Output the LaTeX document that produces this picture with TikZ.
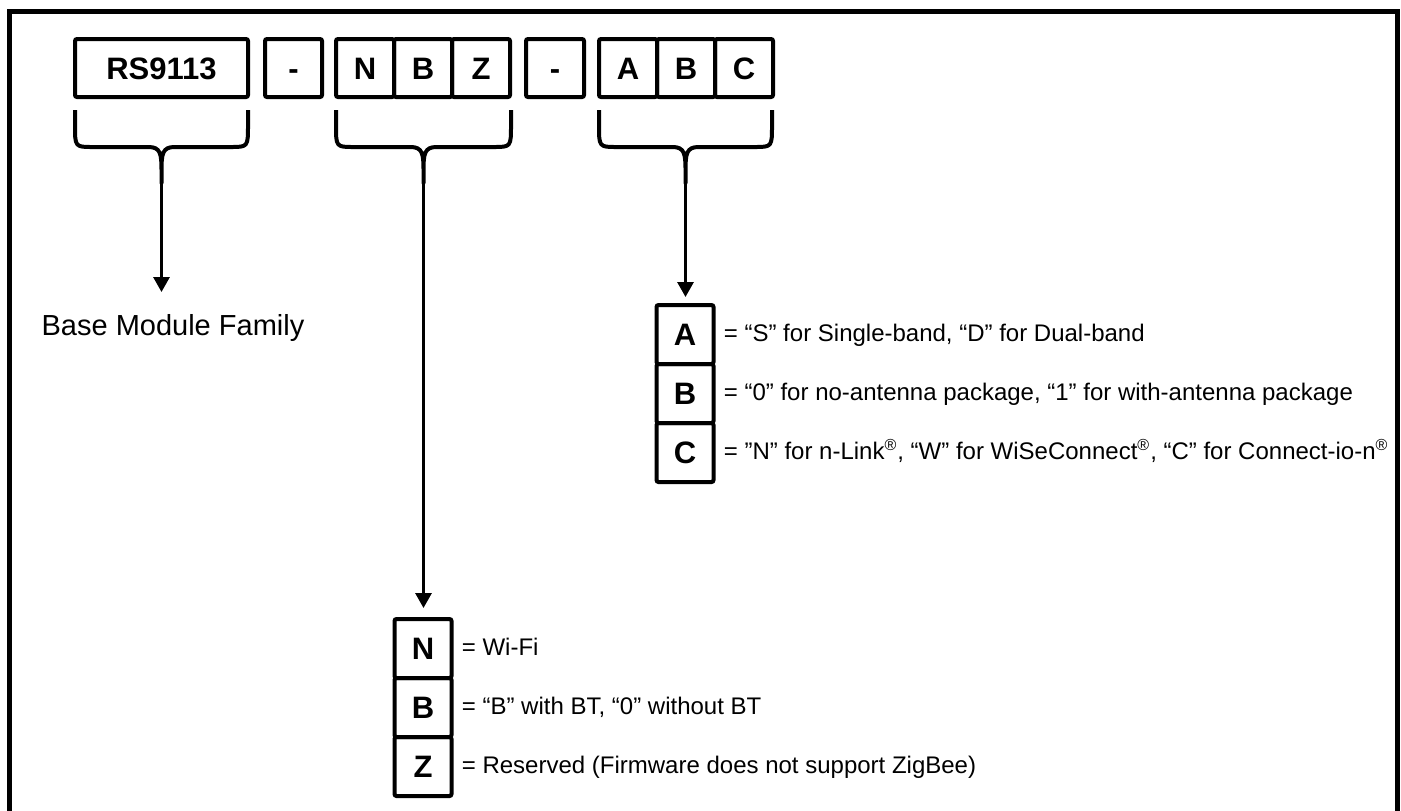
\documentclass[tikz,border=0pt]{standalone}
\usepackage{fontspec}
\setmainfont{Liberation Sans}
\usetikzlibrary{arrows.meta}
\usetikzlibrary{positioning}

\tikzset{
    cell/.style={draw, line width=2pt, rounded corners=1pt, inner sep=0pt, outer sep=0pt,
                 minimum width=29pt, minimum height=29pt, text height=11.2pt, text depth=0pt,
                 font=\bfseries\fontsize{15.5}{18}\selectfont},
    colcell/.style={cell, minimum width=28.5pt, minimum height=29.5pt},
    lbl/.style={inner sep=0pt, font=\fontsize{12}{14}\selectfont, text height=9pt, text depth=2.5pt},
    bracket/.style={line width=2pt, line join=round},
    feed/.style={line width=1.5pt, -{Triangle[length=7.5pt, width=8pt]}},
    frame/.style={line width=2.5pt}
}

\begin{document}
\begin{tikzpicture}[x=0.5pt, y=-0.5pt]
    \useasboundingbox (0,0) rectangle (1401,810);
    \draw[frame] (9,812) -- (9,11) -- (1397.5,11) -- (1397.5,812);

    % part number
    \node[cell, minimum width=86.5pt] (rs) at (161.5,68) {RS9113};
    \node[cell, minimum width=28.5pt] (dash1) at (293.5,68) {-};
    \node[cell] (n) at (365,68) {N};
    \node[cell, right=0pt of n] (b) {B};
    \node[cell, right=0pt of b] (z) {Z};
    \node[cell] (dash2) at (555,68) {-};
    \node[cell] (a) at (628,68) {A};
    \node[cell, right=0pt of a] (b2) {B};
    \node[cell, right=0pt of b2] (c) {C};

    % braces under the fields
    \foreach \l/\r/\t in {75/248/rstip, 336/511/nbztip, 599/772/abctip}
        \draw[bracket] (\l,110) -- (\l,125) .. controls (\l,147) .. ({\l+18},147)
            -- ({(\l+\r)/2-13},147) .. controls ({(\l+\r)/2-1},147) and ({(\l+\r)/2},154) .. ({(\l+\r)/2},170)
            -- ({(\l+\r)/2},183) coordinate (\t) -- ({(\l+\r)/2},170)
            .. controls ({(\l+\r)/2},154) and ({(\l+\r)/2+1},147) .. ({(\l+\r)/2+13},147)
            -- ({\r-18},147) .. controls (\r,147) .. (\r,125) -- (\r,110);

    % base family
    \node[font=\fontsize{14.5}{17}\selectfont] (base) at (173,328) {Base Module Family};
    \coordinate (rsend) at (161.5,292);
    \draw[feed] (rstip) -- (rsend);

    % options
    \node[colcell] (colA) at (685,334.5) {A};
    \node[colcell, below=0pt of colA] (colB) {B};
    \node[colcell, below=0pt of colB] (colC) {C};
    \node[lbl, right=5pt of colA] (txtA) {= “S” for Single-band, “D” for Dual-band};
    \node[lbl, right=5pt of colB] (txtB) {= “0” for no-antenna package, “1” for with-antenna package};
    \node[lbl, right=5pt of colC] (txtC) {= ”N” for n-Link\textsuperscript{®}, “W” for WiSeConnect\textsuperscript{®}, “C” for Connect-io-n\textsuperscript{®}};
    \draw[feed, shorten >=4pt] (abctip) -- (abctip |- colA.north);

    % radios
    \node[colcell] (colN) at (423,648.5) {N};
    \node[colcell, below=0pt of colN] (colBT) {B};
    \node[colcell, below=0pt of colBT] (colZ) {Z};
    \node[lbl, right=5pt of colN] (txtN) {= Wi-Fi};
    \node[lbl, right=5pt of colBT] (txtBT) {= “B” with BT, “0” without BT};
    \node[lbl, right=5pt of colZ] (txtZ) {= Reserved (Firmware does not support ZigBee)};
    \draw[feed, shorten >=5.5pt] (nbztip) -- (nbztip |- colN.north);
\end{tikzpicture}
\end{document}
